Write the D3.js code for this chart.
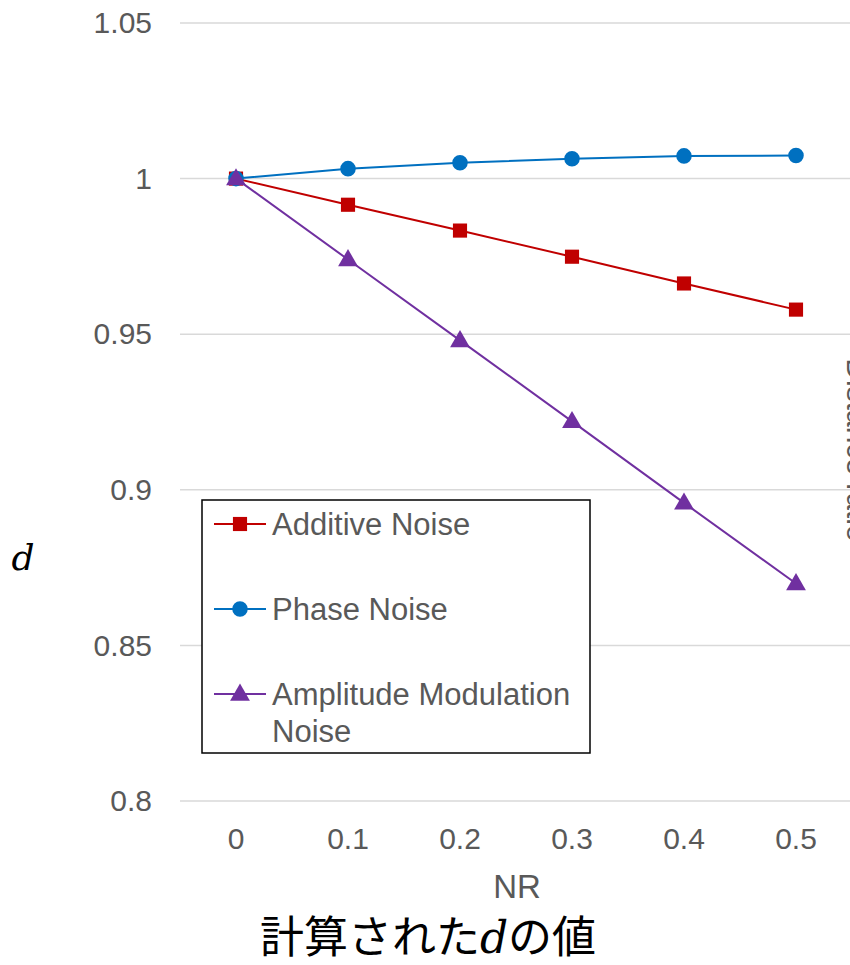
<!DOCTYPE html>
<html>
<head>
<meta charset="utf-8">
<script src="https://cdn.jsdelivr.net/npm/d3@7"></script>
<style>
  body { margin: 0; background: #fff; }
  svg { display: block; }
</style>
</head>
<body>
<div id="chart-area"></div>
<script>
// Data
var nrValues = ["0", "0.1", "0.2", "0.3", "0.4", "0.5"];
var additiveNoise = [1, 0.9916, 0.9833, 0.9749, 0.9663, 0.9579];
var phaseNoise = [1, 1.0032, 1.0051, 1.0064, 1.0073, 1.0074];
var amplitudeNoise = [1, 0.9740, 0.9480, 0.9220, 0.8958, 0.8699];
var yTicks = [0.8, 0.85, 0.9, 0.95, 1, 1.05];
var seriesNames = ["Additive Noise", "Phase Noise", "Amplitude Modulation Noise"];

var width = 850, height = 965;
var font = "Liberation Sans, Arial, sans-serif";

var svg = d3.select("#chart-area")
    .append("svg")
    .attr("width", width)
    .attr("height", height);

// Scales
var x = d3.scaleBand()
    .domain(nrValues)
    .range([180, 852]);

var y = d3.scaleLinear()
    .domain([0.8, 1.05])
    .range([801, 23]);

// Gridlines
svg.append("g")
    .selectAll("line")
    .data(yTicks)
    .enter()
    .append("line")
    .attr("x1", 180)
    .attr("x2", width)
    .attr("y1", (d) => y(d))
    .attr("y2", (d) => y(d))
    .attr("stroke", "#d9d9d9")
    .attr("stroke-width", 1.5);

// Y tick labels
var yAxis = d3.axisLeft(y)
    .tickValues(yTicks)
    .tickSize(0)
    .tickPadding(0)
    .tickFormat((d) => d3.format("")(+d.toFixed(2)));

svg.append("g")
    .attr("transform", "translate(152,0)")
    .call(yAxis)
    .call((g) => g.select(".domain").remove())
    .selectAll("text")
    .attr("font-family", font)
    .attr("font-size", 30)
    .attr("fill", "#595959");

// X tick labels
var xAxis = d3.axisBottom(x).tickSize(0).tickPadding(0);
svg.append("g")
    .attr("transform", "translate(0,828)")
    .call(xAxis)
    .call((g) => g.select(".domain").remove())
    .selectAll("text")
    .attr("font-family", font)
    .attr("font-size", 30)
    .attr("fill", "#595959");

// Axis titles
svg.append("text")
    .attr("x", 517)
    .attr("y", 898)
    .attr("text-anchor", "middle")
    .attr("font-family", font)
    .attr("font-size", 33)
    .attr("fill", "#595959")
    .text("NR");

svg.append("text")
    .attr("x", 23)
    .attr("y", 570)
    .attr("text-anchor", "middle")
    .attr("font-family", "DejaVu Serif, Liberation Serif, serif")
    .attr("font-style", "italic")
    .attr("font-size", 36)
    .attr("fill", "#000")
    .text("d");

// Chart title
var title = svg.append("text")
    .attr("x", 428)
    .attr("y", 953)
    .attr("text-anchor", "middle")
    .attr("font-family", "Noto Sans CJK JP, sans-serif")
    .attr("font-size", 44)
    .attr("fill", "#000");
title.append("tspan").text("計算された");
title.append("tspan")
    .attr("font-family", "DejaVu Serif, Liberation Serif, serif")
    .attr("font-style", "italic")
    .text("d");
title.append("tspan").text("の値");

// Secondary label, mostly outside the picture at the right edge
svg.append("text")
    .attr("transform", "translate(847,450) rotate(90)")
    .attr("text-anchor", "middle")
    .attr("font-family", font)
    .attr("font-size", 30)
    .attr("fill", "#595959")
    .text("Distance ratio");

// Series
var series = [
    { name: seriesNames[0], values: additiveNoise, color: "#C00000", symbol: d3.symbolSquare, size: 200 },
    { name: seriesNames[1], values: phaseNoise, color: "#0070C0", symbol: d3.symbolCircle, size: 190 },
    { name: seriesNames[2], values: amplitudeNoise, color: "#7030A0", symbol: d3.symbolTriangle, size: 170 }
];

var line = d3.line()
    .x((d, i) => x(nrValues[i]) + x.bandwidth() / 2)
    .y((d) => y(d));

series.forEach((s) => {
    svg.append("path")
        .datum(s.values)
        .attr("fill", "none")
        .attr("stroke", s.color)
        .attr("stroke-width", 2)
        .attr("d", line);

    svg.append("g")
        .selectAll("path")
        .data(s.values)
        .enter()
        .append("path")
        .attr("transform", (d, i) => "translate(" + (x(nrValues[i]) + x.bandwidth() / 2) + "," + (y(d) + (s.symbol === d3.symbolTriangle ? 1 : 0)) + ")")
        .attr("d", d3.symbol().type(s.symbol).size(s.size))
        .attr("fill", s.color);
});

// Legend
var legend = svg.append("g");
legend.append("rect")
    .attr("x", 202)
    .attr("y", 500)
    .attr("width", 388)
    .attr("height", 253)
    .attr("fill", "#fff")
    .attr("stroke", "#000")
    .attr("stroke-width", 1.5);

var legendRows = [524, 609, 694];
series.forEach((s, i) => {
    var ly = legendRows[i];
    legend.append("line")
        .attr("x1", 214)
        .attr("x2", 266)
        .attr("y1", ly)
        .attr("y2", ly)
        .attr("stroke", s.color)
        .attr("stroke-width", 2);
    legend.append("path")
        .attr("transform", "translate(240," + (ly + (s.symbol === d3.symbolTriangle ? 1 : 0)) + ")")
        .attr("d", d3.symbol().type(s.symbol).size(s.size))
        .attr("fill", s.color);
    var t = legend.append("text")
        .attr("x", 272)
        .attr("y", ly + 11)
        .attr("font-family", font)
        .attr("font-size", 31)
        .attr("fill", "#595959");
    if (i === 2) {
        t.append("tspan").attr("x", 272).text("Amplitude Modulation");
        t.append("tspan").attr("x", 272).attr("dy", 37).text("Noise");
    } else {
        t.text(s.name);
    }
});
</script>
</body>
</html>
